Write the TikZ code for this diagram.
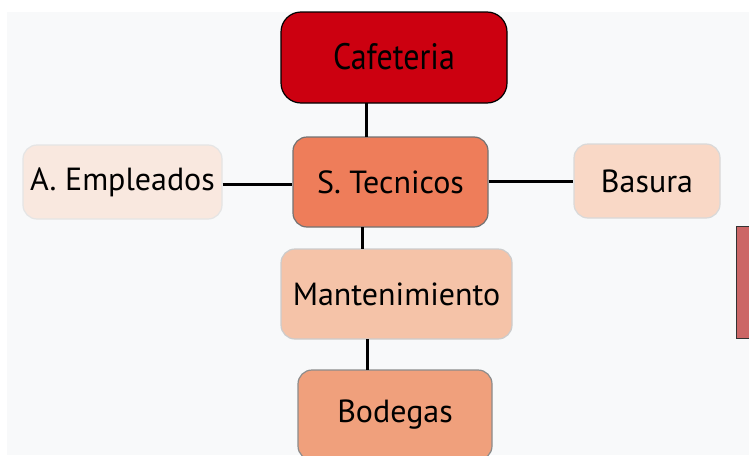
\documentclass[tikz,border=0pt]{standalone}
\usepackage{fontspec}
\setmainfont{PT Sans}
\definecolor{bg}{HTML}{F8F9FA}
\definecolor{cafe}{HTML}{CC0010}
\definecolor{stec}{HTML}{EE7D5A}
\definecolor{aemp}{HTML}{F9E8DF}
\definecolor{basu}{HTML}{F9D8C6}
\definecolor{mant}{HTML}{F5C3A8}
\definecolor{bode}{HTML}{F0A07C}
\definecolor{side}{HTML}{CC6666}
\tikzset{
  box/.style={rounded corners=14pt, line width=1.2pt, font=\fontsize{32}{36}\selectfont, inner sep=0pt},
  link/.style={line width=3pt, black}
}
\begin{document}
\begin{tikzpicture}[x=1pt,y=-1pt]
\useasboundingbox (0,0) rectangle (749,455);
\fill[white] (0,0) rectangle (749,455);
\fill[bg] (7,12) rectangle (749,455);
\fill[side, draw=black!80, line width=1pt] (736,226) rectangle (752,338);
% nodes
\node[box, draw=black, fill=cafe, minimum width=226pt, minimum height=91pt, rounded corners=20pt] (cafe) at (394,57.5) {\raisebox{2pt}{\scalebox{1}[1.15]{Cafeteria}}};
\node[box, draw=black!55, fill=stec, minimum width=195pt, minimum height=90pt] (stec) at (390.5,182) {S. Tecnicos};
\node[box, draw=black!10, fill=aemp, minimum width=199pt, minimum height=74pt] (aemp) at (122.5,182) {A. Empleados};
\node[box, draw=black!15, fill=basu, minimum width=146pt, minimum height=74pt] (basu) at (647,181) {Basura};
\node[box, draw=black!20, fill=mant, minimum width=231pt, minimum height=90pt] (mant) at (396.5,294) {Mantenimiento};
\node[box, draw=black!45, fill=bode, minimum width=194pt, minimum height=90pt] (bode) at (395,415) {Bodegas};
% links
\draw[link] (366,103) -- (366,137);
\draw[link] (aemp.east |- 0,184) -- (stec.west |- 0,184);
\draw[link] (stec.east |- 0,181) -- (basu.west |- 0,181);
\draw[link] (362,227) -- (362,249);
\draw[link] (367,339) -- (367,370);
\end{tikzpicture}
\end{document}
